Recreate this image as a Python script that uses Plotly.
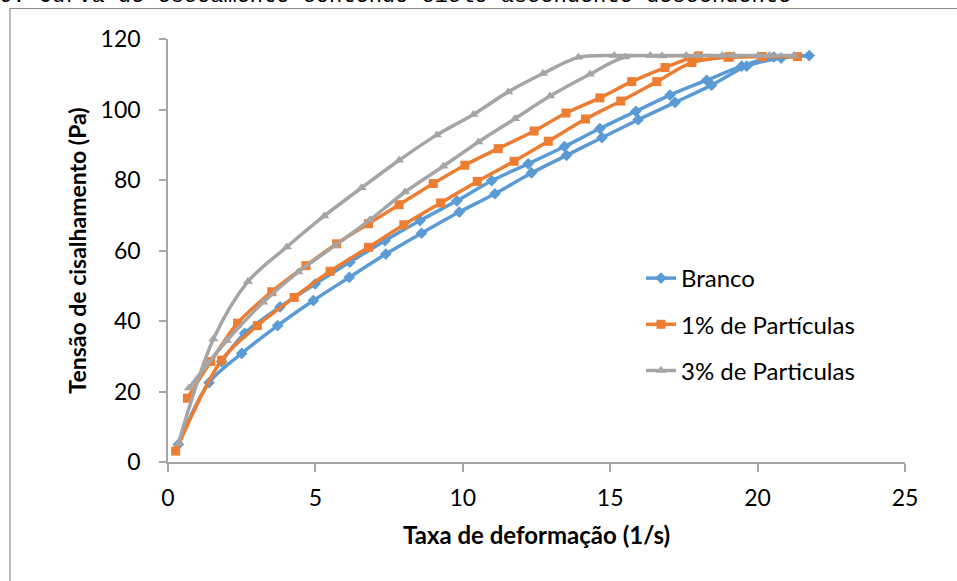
import plotly.graph_objects as go

# ---- data ----
branco_x = [0.35, 1.39, 2.50, 3.72, 4.93, 6.15, 7.39, 8.60, 9.88, 11.09, 12.33, 13.52, 14.72, 15.95, 17.20, 18.44, 19.63, 20.80, 21.75,
            20.55, 19.46, 18.27, 17.03, 15.87, 14.65, 13.45, 12.22, 10.98, 9.80, 8.55, 7.36, 6.17, 4.99, 3.80, 2.60, 1.82]
branco_y = [5.0, 22.5, 30.8, 38.7, 45.8, 52.4, 59.0, 64.9, 70.9, 76.1, 82.0, 87.0, 92.0, 97.1, 102.0, 106.9, 112.3, 114.6, 115.3,
            114.9, 112.3, 108.3, 104.1, 99.5, 94.6, 89.5, 84.6, 79.8, 74.1, 68.5, 62.8, 56.7, 50.5, 44.0, 36.5, 28.5]

p1_x = [0.26, 1.82, 3.03, 4.28, 5.50, 6.80, 8.00, 9.25, 10.49, 11.74, 12.90, 14.16, 15.36, 16.58, 17.77, 19.00, 20.15, 21.35,
        20.15, 19.05, 17.99, 16.86, 15.73, 14.65, 13.50, 12.42, 11.20, 10.07, 9.00, 7.84, 6.80, 5.72, 4.68, 3.52, 2.36, 1.45, 0.66]
p1_y = [3.1, 28.9, 38.7, 46.7, 54.1, 60.9, 67.3, 73.5, 79.6, 85.3, 91.0, 97.3, 102.4, 107.9, 113.3, 114.8, 115.0, 115.0,
        115.0, 115.0, 115.2, 111.9, 107.9, 103.3, 99.0, 93.9, 88.9, 84.2, 79.0, 73.0, 67.6, 61.9, 55.7, 48.3, 39.4, 28.5, 18.1]

p3_x = [0.35, 1.54, 2.71, 4.03, 5.30, 6.57, 7.84, 9.12, 10.36, 11.54, 12.72, 13.92, 15.14, 16.36, 17.58, 18.80, 20.02, 21.24,
        20.40, 19.20, 17.99, 16.76, 15.50, 14.31, 12.96, 11.77, 10.53, 9.34, 8.04, 6.85, 5.66, 4.42, 3.23, 1.99, 0.71]
p3_y = [5.2, 34.9, 51.2, 61.0, 69.8, 77.8, 85.6, 92.8, 98.6, 105.0, 110.2, 114.8, 115.3, 115.3, 115.3, 115.3, 115.3, 115.3,
        115.3, 115.3, 115.3, 115.2, 114.9, 110.0, 103.8, 97.4, 90.8, 83.9, 76.6, 68.7, 61.4, 53.9, 45.3, 34.4, 21.0]

series_names = ["Branco", "1% de Partículas", "3% de Particulas"]
x_ticks = [0, 5, 10, 15, 20, 25]
y_ticks = [0, 20, 40, 60, 80, 100, 120]
title_text = "6. Curva de escoamento contendo ciclo ascendente-descendente"
x_title = "Taxa de deformação (1/s)"
y_title = "Tensão de cisalhamento (Pa)"

FONT = "Lato"
FS = 23
colors = ["#5B9BD5", "#ED7D31", "#A5A5A5"]
symbols = ["diamond", "square", "triangle-up"]
msizes = [9, 9, 9]

fig = go.Figure()
for i, (xs, ys) in enumerate([(branco_x, branco_y), (p1_x, p1_y), (p3_x, p3_y)]):
    fig.add_trace(go.Scatter(
        x=xs, y=ys, name=series_names[i], mode="lines+markers",
        line=dict(color=colors[i], width=3.5, shape="spline", smoothing=0.9),
        marker=dict(symbol=symbols[i], size=msizes[i], color=colors[i]),
        legendgroup=str(i),
    ))

W, H = 957, 581
L, R, T, B = 168, 52, 39, 119
pw, ph = W - L - R, H - T - B

def px2x(px):
    return (px - L) / pw

def py2y(py):
    return (H - B - py) / ph

axis_col = "#A6A6A6"
fig.update_layout(
    width=W, height=H,
    margin=dict(l=L, r=R, t=T, b=B),
    paper_bgcolor="white", plot_bgcolor="white",
    font=dict(family=FONT, size=FS, color="black"),
    showlegend=True,
    legend=dict(x=px2x(641), y=py2y(256), xanchor="left", yanchor="top",
                font=dict(family=FONT, size=24), tracegroupgap=12,
                bgcolor="rgba(0,0,0,0)"),
    xaxis=dict(range=[0, 25], tickvals=x_ticks, showgrid=False, zeroline=False,
               showline=True, linecolor=axis_col, linewidth=1.5,
               ticks="outside", ticklen=8, tickcolor=axis_col, tickwidth=1.5,
               ticklabelstandoff=7,
               title=dict(text="<b>" + x_title + "</b>", standoff=17,
                          font=dict(family=FONT, size=24))),
    yaxis=dict(range=[0, 120], tickvals=y_ticks, showgrid=False, zeroline=False,
               showline=True, linecolor=axis_col, linewidth=1.5,
               ticks="outside", ticklen=7, tickcolor=axis_col, tickwidth=1.5,
               ticklabelstandoff=14,
               title=dict(text="<b>" + y_title + "</b>", standoff=8,
                          font=dict(family=FONT, size=23))),
    shapes=[dict(type="rect", xref="paper", yref="paper",
                 x0=px2x(10), x1=px2x(1100), y0=py2y(800), y1=py2y(8.5),
                 line=dict(color="#8C8C8C", width=1.2), fillcolor="rgba(0,0,0,0)", layer="below")],
    annotations=[dict(text=title_text, xref="paper", yref="paper",
                      x=px2x(-3), y=py2y(11), xanchor="left", yanchor="bottom",
                      showarrow=False, font=dict(family="Liberation Mono", size=22, color="black"))],
)

fig.write_html("out.html")
